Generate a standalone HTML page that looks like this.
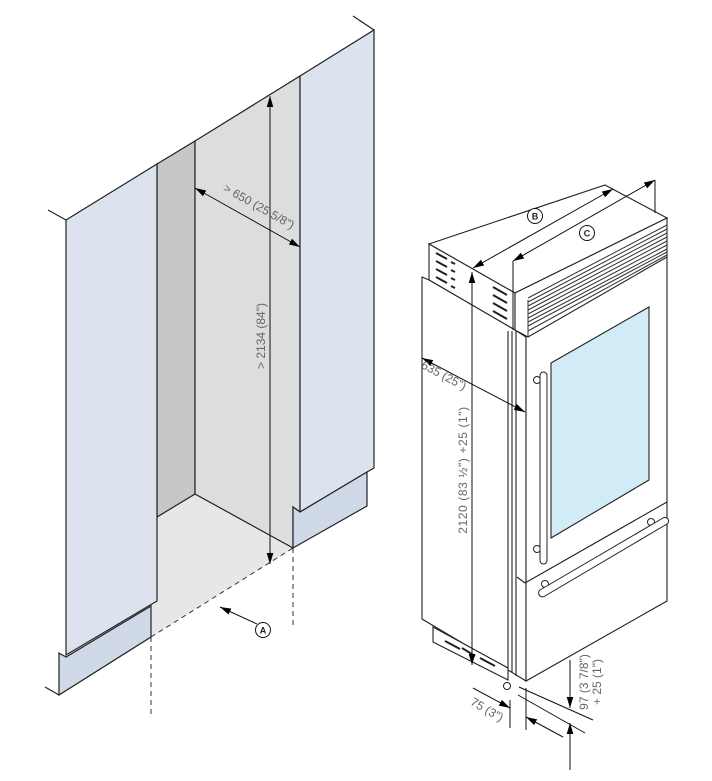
<!DOCTYPE html>
<html><head><meta charset="utf-8"><style>
html,body{margin:0;padding:0;background:#fff;}
svg{display:block}
text{font-family:"Liberation Sans",sans-serif;fill:#666;font-size:12px}
</style></head><body>
<svg width="712" height="781" viewBox="0 0 712 781" xmlns="http://www.w3.org/2000/svg">
<defs>
<marker id="ah" viewBox="0 0 10 6" refX="10" refY="3" markerWidth="11" markerHeight="7" orient="auto-start-reverse" markerUnits="userSpaceOnUse"><path d="M0,0 L10,3 L0,6 z" fill="#000"/></marker>
</defs>
<g stroke="#222" stroke-width="1.2" stroke-linejoin="miter">
<polygon points="151,637 151,606 157,602 157,517 195,494 293,548" fill="#e6e7e8" stroke="none"/>
<polygon points="157,164 195,141 195,494 157,517" fill="#c6c7c9"/>
<polygon points="195,141 300,76 300,512 293,507 293,548 195,494" fill="#dcdddf"/>
<polygon points="66,220 157,164 157,601 66,655" fill="#dce3ef"/>
<polygon points="59,653 66,657 151,606 151,637 59,695" fill="#cfd9e8"/>
<polygon points="300,76 374,30 374,468 367,472 300,512" fill="#dce3ef"/>
<polygon points="293,507 300,512 367,472 367,506 293,548" fill="#cfd9e8"/>
<line x1="48" y1="210" x2="66" y2="220"/>
<line x1="353" y1="16" x2="374" y2="30"/>
<line x1="45" y1="687" x2="59" y2="695"/>
</g>
<g stroke="#333" stroke-width="1" stroke-dasharray="5,4" fill="none">
<line x1="151" y1="637" x2="293" y2="548"/>
<line x1="151" y1="637" x2="151" y2="715"/>
<line x1="293" y1="548" x2="293" y2="625"/>
</g>
<g stroke="#111" stroke-width="1" fill="none">
<line x1="270" y1="96" x2="270" y2="564" marker-start="url(#ah)" marker-end="url(#ah)"/>
<line x1="195" y1="188" x2="300" y2="247" marker-start="url(#ah)" marker-end="url(#ah)"/>
<line x1="257" y1="624" x2="220" y2="607" marker-end="url(#ah)"/>
<circle cx="263" cy="630" r="7.5" fill="#fff"/>
</g>
<text x="263" y="633.5" text-anchor="middle" style="font-size:9px;fill:#222;font-weight:bold">A</text>
<text transform="translate(265,336) rotate(-90)" text-anchor="middle">&gt; 2134 (84")</text>
<text transform="translate(257,210) rotate(29.5)" text-anchor="middle">&gt; 650 (25 5/8")</text>

<g stroke="#222" stroke-width="1.1">
<polygon points="429,244 605,185 667,218 515,293" fill="#fff"/>
<polygon points="429,244 515,293 515,330 429,280" fill="#fff"/>
<polygon points="422,277 429,280 515,330 526,337 526,681 508,670 422,619" fill="#fff"/>
<polygon points="526,337 667,256 667,601 526,681" fill="#fff"/>
<polygon points="515,293 667,218 667,257 528,337 515,330" fill="#fff"/>
<polygon points="551,363 649,307 649,480 551,538" fill="#d1ebf7"/>
<line x1="517" y1="577" x2="525" y2="583"/>
<line x1="525" y1="583" x2="667" y2="502"/>
<line x1="508" y1="331" x2="508" y2="670"/>
<line x1="512" y1="331" x2="512" y2="672"/>
<line x1="516" y1="331" x2="516" y2="676"/>
<polygon points="433,627 508,668 508,680 433,642" fill="#fff"/>
</g>
<g stroke="#333" stroke-width="1">
<line x1="528" y1="298" x2="667" y2="225"/><line x1="528" y1="302" x2="667" y2="229"/>
<line x1="528" y1="306" x2="667" y2="233"/><line x1="528" y1="310" x2="667" y2="237"/>
<line x1="528" y1="314" x2="667" y2="241"/><line x1="528" y1="318" x2="667" y2="245"/>
<line x1="528" y1="322" x2="667" y2="249"/><line x1="528" y1="326" x2="667" y2="252"/>
<line x1="528" y1="331" x2="667" y2="255"/>
<line x1="528" y1="300" x2="528" y2="337"/>
</g>
<g stroke="#222" stroke-width="2">
<line x1="436" y1="253" x2="447" y2="259"/><line x1="436" y1="261" x2="447" y2="267"/>
<line x1="436" y1="269" x2="447" y2="275"/><line x1="436" y1="277" x2="447" y2="283"/>
<line x1="451" y1="262" x2="455" y2="264"/><line x1="451" y1="270" x2="455" y2="272"/>
<line x1="451" y1="278" x2="455" y2="280"/><line x1="451" y1="286" x2="455" y2="288"/>
<line x1="493" y1="287" x2="507" y2="295"/><line x1="493" y1="295" x2="507" y2="303"/>
<line x1="493" y1="303" x2="507" y2="311"/><line x1="493" y1="311" x2="507" y2="319"/>
<line x1="445" y1="641" x2="460" y2="649"/><line x1="462" y1="648" x2="475" y2="656"/>
<line x1="480" y1="658" x2="495" y2="666"/>
</g>
<g stroke="#222" stroke-width="1" fill="#fff">
<circle cx="537" cy="380" r="3.5"/><circle cx="537" cy="549" r="3.5"/>
<rect x="540" y="372" width="7" height="192" rx="3.5"/>
<circle cx="545" cy="584" r="3.5"/><circle cx="651" cy="522" r="3.5"/>
<path d="M540,590 L663,518 A3.5,3.5 0 0 1 667,524 L545,596 A3.5,3.5 0 0 1 540,590 z"/>
<circle cx="507" cy="686" r="3.5"/>
</g>
<g stroke="#111" stroke-width="1" fill="none">
<line x1="472" y1="272" x2="472" y2="665" marker-start="url(#ah)" marker-end="url(#ah)"/>
<line x1="422" y1="358" x2="525" y2="412" marker-start="url(#ah)" marker-end="url(#ah)"/>
<line x1="473" y1="268" x2="613" y2="189" marker-start="url(#ah)" marker-end="url(#ah)"/>
<line x1="513" y1="261" x2="655" y2="180" marker-start="url(#ah)" marker-end="url(#ah)"/>
<line x1="513" y1="261" x2="513" y2="330"/>
<line x1="655" y1="180" x2="655" y2="213"/>
<circle cx="535" cy="216" r="7.5" fill="#fff"/>
<circle cx="587" cy="233" r="7.5" fill="#fff"/>
<line x1="510" y1="700" x2="510" y2="728"/>
<line x1="526" y1="688" x2="526" y2="730"/>
<line x1="473" y1="688" x2="510" y2="708" marker-end="url(#ah)"/>
<line x1="563" y1="737" x2="526" y2="717" marker-end="url(#ah)"/>
<line x1="519" y1="687" x2="593" y2="720"/>
<line x1="518" y1="695" x2="585" y2="733"/>
<line x1="570" y1="660" x2="570" y2="708" marker-end="url(#ah)"/>
<line x1="570" y1="770" x2="570" y2="723" marker-end="url(#ah)"/>
</g>
<text x="535" y="219.5" text-anchor="middle" style="font-size:9px;fill:#222;font-weight:bold">B</text>
<text x="587" y="236.5" text-anchor="middle" style="font-size:9px;fill:#222;font-weight:bold">C</text>
<text transform="translate(467,470) rotate(-90)" text-anchor="middle" style="letter-spacing:0.6px">2120 (83 ½") +25 (1")</text>
<text transform="translate(442,379) rotate(28)" text-anchor="middle">635 (25")</text>
<text transform="translate(485,713) rotate(30)" text-anchor="middle">75 (3")</text>
<text transform="translate(588,682) rotate(-90)" text-anchor="middle">97 (3 7/8")</text>
<text transform="translate(601,682) rotate(-90)" text-anchor="middle">+ 25 (1")</text>
</svg>
</body></html>
